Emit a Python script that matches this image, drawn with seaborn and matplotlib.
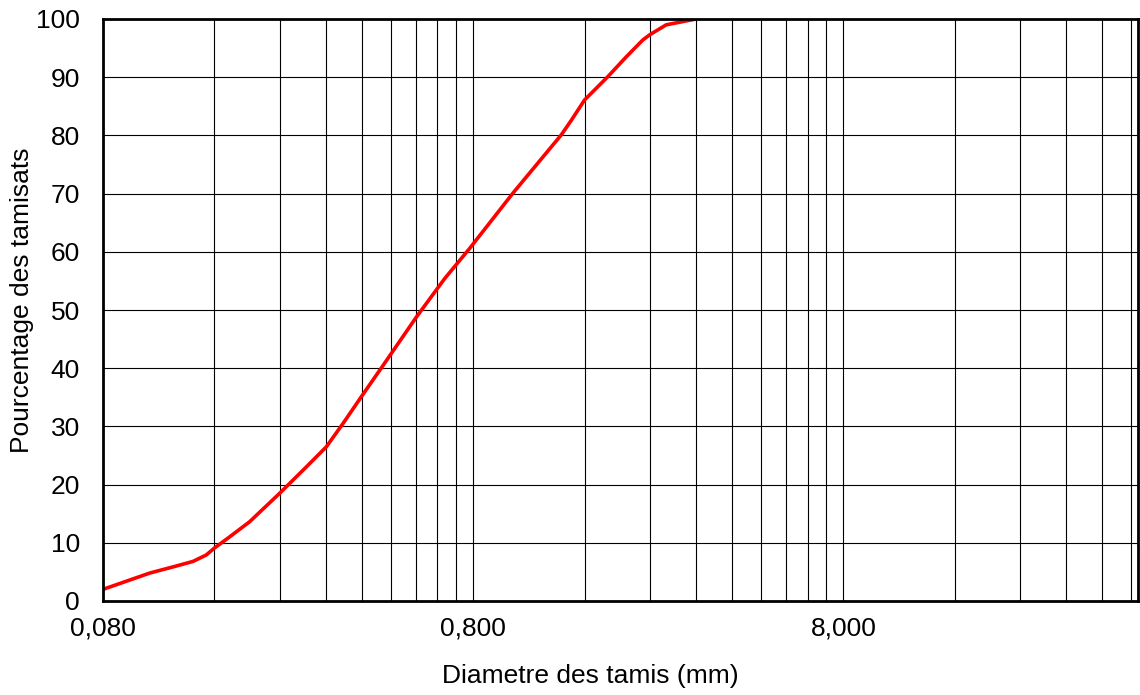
import matplotlib
matplotlib.use("Agg")
import matplotlib.pyplot as plt
import seaborn as sns
import pandas as pd
from matplotlib.ticker import FixedLocator, FixedFormatter, NullFormatter

# Data (sieve diameter in mm, cumulative % passing)
diametre = [0.080, 0.107, 0.126, 0.140, 0.152, 0.160, 0.174, 0.199, 0.240,
            0.284, 0.321, 0.356, 0.399, 0.457, 0.562, 0.670, 0.783, 1.025,
            1.384, 1.473, 1.600, 1.849, 2.073, 2.298, 2.400, 2.658, 3.200]
tamisat = [2.0, 4.8, 6.0, 6.8, 7.9, 9.1, 10.8, 13.6, 18.5,
           23.1, 26.5, 30.5, 35.1, 40.5, 48.8, 55.4, 60.6, 70.1,
           80.1, 82.6, 86.1, 90.1, 93.5, 96.4, 97.3, 99.0, 100.0]

major_ticks = [0.08, 0.8, 8.0]
major_labels = ["0,080", "0,800", "8,000"]
y_ticks = list(range(0, 101, 10))

df = pd.DataFrame({"d": diametre, "p": tamisat})

sns.set_style("white")
plt.rcParams["font.family"] = ["Liberation Sans", "DejaVu Sans"]
plt.rcParams["text.color"] = "black"
plt.rcParams["axes.labelcolor"] = "black"

fig = plt.figure(figsize=(11.4, 6.95), dpi=100)
ax = fig.add_axes([103 / 1140, 1 - 601 / 695, (1138 - 103) / 1140, (601 - 19) / 695])

sns.lineplot(data=df, x="d", y="p", ax=ax, color="#ff0000", linewidth=2.6,
             sort=False, estimator=None, zorder=5)
for ln in ax.get_lines():
    ln.set_solid_joinstyle("round")
    ln.set_solid_capstyle("round")

ax.set_xscale("log")
ax.set_xlim(0.08, 50)
ax.set_ylim(0, 100)

minor = []
for base in (0.08, 0.8, 8.0):
    for k in range(2, 10):
        v = base * k
        if v < 50:
            minor.append(v)
ax.xaxis.set_major_locator(FixedLocator(major_ticks))
ax.xaxis.set_major_formatter(FixedFormatter(major_labels))
ax.xaxis.set_minor_locator(FixedLocator(minor))
ax.xaxis.set_minor_formatter(NullFormatter())
ax.set_yticks(y_ticks)

ax.grid(True, which="both", axis="x", color="black", linewidth=0.8)
ax.grid(True, which="major", axis="y", color="black", linewidth=0.8)

for s in ax.spines.values():
    s.set_visible(True)
    s.set_color("black")
    s.set_linewidth(2.0)
    s.set_zorder(6)

ax.tick_params(axis="both", which="major", direction="inout", length=9, width=0.8,
               color="black", labelsize=19, labelcolor="black")
ax.tick_params(axis="x", which="major", pad=7)
ax.tick_params(axis="y", which="major", pad=12)
ax.tick_params(axis="x", which="minor", length=0)

ax.set_xlabel("Diametre des tamis (mm)", fontsize=19, color="black")
ax.xaxis.set_label_coords((590 - 103) / 1035, -(664 - 601) / 582)
ax.set_ylabel("Pourcentage des tamisats", fontsize=19, color="black")
ax.yaxis.set_label_coords((34 - 103) / 1035, (601 - 300) / 582)

fig.savefig("out.png", dpi=100)
